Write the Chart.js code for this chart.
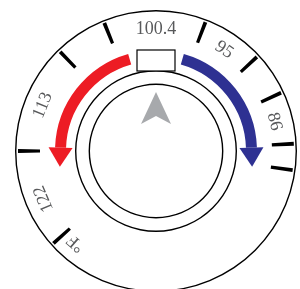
<!DOCTYPE html>
<html>
<head>
<meta charset="utf-8">
<script src="https://cdn.jsdelivr.net/npm/chart.js@4"></script>
<style>
  html, body { margin: 0; padding: 0; background: #fff; overflow: hidden; }
  #wrap { width: 300px; height: 302px; }
</style>
</head>
<body>
<div id="wrap"><canvas id="dial" width="300" height="302"></canvas></div>
<script>
// all angles in degrees, clockwise from the top of the dial
let tickAngles = [-132, -90, -44, -22, 21, 47, 65, 87, 98];
let scaleLabels = ['°F', '122', '113', '100.4', '95', '86'];
let labelAngles = [-139, -113, -68, 0, 34, 76];
let coolArc = [16, 88];    // blue, runs clockwise to the arrow
let heatArc = [272, 344];  // red, runs counter-clockwise to the arrow
let pointerAngle = 0;

const RED = '#ed1c24';
const BLUE = '#2e3192';
const NONE = 'rgba(0,0,0,0)';

// turn a list of [start, end] spans into slice sizes + colours for a full turn
let spansToRing = (spans) => {
    let data = [], colors = [], cursor = 0;
    spans.sort((a, b) => a.from - b.from).forEach(s => {
        data.push(s.from - cursor); colors.push(NONE);
        data.push(s.to - s.from); colors.push(s.color);
        cursor = s.to;
    });
    data.push(360 - cursor); colors.push(NONE);
    return { data, colors };
};

let tickWidth = 1.6;
let tickRing = spansToRing(tickAngles.map(a => {
    let n = (a + 360) % 360;
    return { from: n - tickWidth / 2, to: n + tickWidth / 2, color: '#000' };
}));
let arcRing = spansToRing([
    { from: coolArc[0], to: coolArc[1], color: BLUE },
    { from: heatArc[0], to: heatArc[1], color: RED }
]);

let ring = (name, data, colors, weight) => ({
    label: name, data: data, backgroundColor: colors, weight: weight,
    borderWidth: 0, hoverBorderWidth: 0, hoverOffset: 0, offset: 0
});

// rings from the outside in; weights are in pixels (cutout leaves 75px of rings)
let datasets = [
    ring('outer', [1], ['#000'], 1.4),
    ring('gap1', [1], [NONE], 1.6),
    ring('ticks', tickRing.data, tickRing.colors, 22),
    ring('gap2', [1], [NONE], 15),
    ring('arcs', arcRing.data, arcRing.colors, 11),
    ring('gap3', [1], [NONE], 9),
    ring('middle', [1], ['#000'], 1.4),
    ring('gap4', [1], [NONE], 12.2),
    ring('inner', [1], ['#000'], 1.4)
];

let rad = d => d * Math.PI / 180;

const dialDecor = {
    id: 'dialDecor',
    afterDatasetsDraw(chart) {
        let ctx = chart.ctx;
        let first = chart.getDatasetMeta(0).data[0];
        let cx = first.x, cy = first.y;
        let tickCtl = chart.getDatasetMeta(2).controller;
        let arcCtl = chart.getDatasetMeta(4).controller;
        let midCtl = chart.getDatasetMeta(6).controller;

        // arrow heads at the ends of the two arcs
        let midR = (arcCtl.outerRadius + arcCtl.innerRadius) / 2;
        let head = (angle, dir, color) => {
            let t = rad(angle);
            let bx = cx + midR * Math.sin(t), by = cy - midR * Math.cos(t);
            let rx = Math.sin(t), ry = -Math.cos(t);           // radial
            let tx = dir * Math.cos(t), ty = dir * Math.sin(t); // tangent
            ctx.save();
            ctx.fillStyle = color;
            ctx.beginPath();
            ctx.moveTo(bx + rx * 12, by + ry * 12);
            ctx.lineTo(bx + tx * 19, by + ty * 19);
            ctx.lineTo(bx - rx * 12, by - ry * 12);
            ctx.closePath();
            ctx.fill();
            ctx.restore();
        };
        head(coolArc[1], 1, BLUE);
        head(heatArc[0], -1, RED);

        // set-point box sitting on the middle ring
        ctx.save();
        ctx.fillStyle = '#fff';
        ctx.strokeStyle = '#000';
        ctx.lineWidth = 1.2;
        let top = cy - arcCtl.outerRadius, bottom = cy - midCtl.outerRadius + 1;
        ctx.fillRect(cx - 19, top, 38, bottom - top);
        ctx.strokeRect(cx - 19, top, 38, bottom - top);
        ctx.restore();

        // scale labels, written along the rim
        let labelR = tickCtl.innerRadius + 6;
        ctx.save();
        ctx.fillStyle = '#58595b';
        ctx.font = '18px "Liberation Serif", serif';
        ctx.textAlign = 'center';
        ctx.textBaseline = 'middle';
        scaleLabels.forEach((txt, i) => {
            let t = rad(labelAngles[i]);
            ctx.save();
            ctx.translate(cx + labelR * Math.sin(t), cy - labelR * Math.cos(t));
            ctx.rotate(t);
            ctx.fillText(txt, 0, 0);
            ctx.restore();
        });
        ctx.restore();

        // grey pointer in the centre
        ctx.save();
        ctx.translate(cx, cy);
        ctx.rotate(rad(pointerAngle));
        ctx.fillStyle = '#a7a9ac';
        ctx.beginPath();
        ctx.moveTo(0, -59);
        ctx.lineTo(15, -27);
        ctx.lineTo(0, -35);
        ctx.lineTo(-15, -27);
        ctx.closePath();
        ctx.fill();
        ctx.restore();
    }
};

new Chart(document.getElementById('dial').getContext('2d'), {
    type: 'doughnut',
    data: { labels: tickRing.data.map((_, i) => 's' + i), datasets: datasets },
    options: {
        responsive: false,
        animation: false,
        events: [],
        cutout: 66,
        rotation: 0,
        layout: { padding: { left: 15, right: 3, top: 10, bottom: 10 } },
        plugins: { legend: { display: false }, tooltip: { enabled: false } }
    },
    plugins: [dialDecor]
});
</script>
</body>
</html>
